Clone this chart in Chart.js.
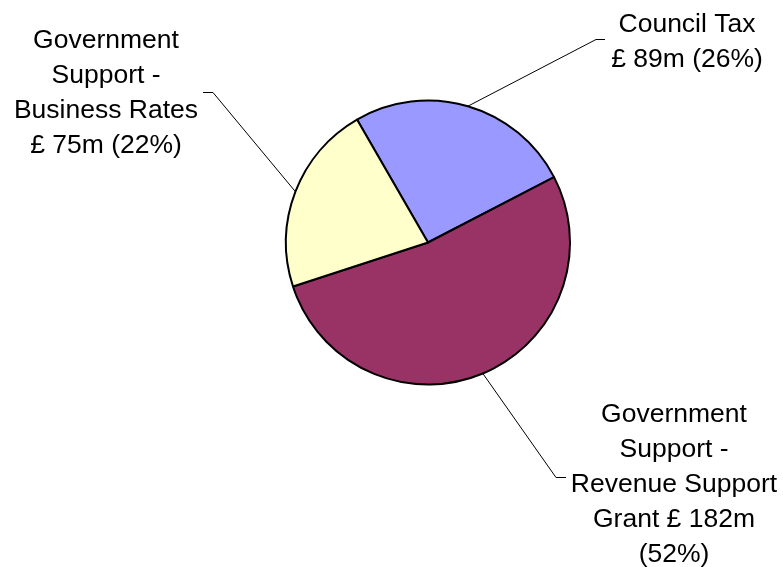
<!DOCTYPE html>
<html>
<head>
<meta charset="utf-8">
<script src="https://cdn.jsdelivr.net/npm/chart.js@4/dist/chart.umd.min.js"></script>
<style>
  html, body { margin: 0; padding: 0; background: #ffffff; }
  #wrap { width: 783px; height: 567px; position: relative; }
</style>
</head>
<body>
<div id="wrap"><canvas id="c" width="783" height="567"></canvas></div>
<script>
// ---- Data ----
const categories = ['Council Tax', 'Government Support - Revenue Support Grant', 'Government Support - Business Rates'];
const values = [89, 182, 75];           // £m
const percents = [26, 52, 22];          // % as printed on the chart
const sliceColors = ['#9999FF', '#993366', '#FFFFCC'];

// label text lines (as wrapped in the original)
const labelLines = [
  ['Council Tax', '£ ' + values[0] + 'm (' + percents[0] + '%)'],
  ['Government', 'Support -', 'Revenue Support', 'Grant £ ' + values[1] + 'm', '(' + percents[1] + '%)'],
  ['Government', 'Support -', 'Business Rates', '£ ' + values[2] + 'm (' + percents[2] + '%)']
];

// label layout (elbow of leader line, tick end, text centre x, first baseline)
const labelLayout = [
  { elbow: [596, 39], tick: [605, 39], cx: 687, y0: 32 },
  { elbow: [556, 477], tick: [566, 477], cx: 674, y0: 422 },
  { elbow: [213, 92], tick: [203, 92], cx: 106, y0: 48 }
];
const lineHeight = 35;

const labelPlugin = {
  id: 'pieLabels',
  afterDatasetsDraw(chart) {
    const ctx = chart.ctx;
    const meta = chart.getDatasetMeta(0);
    ctx.save();
    meta.data.forEach((arc, i) => {
      const p = arc.getProps(['x', 'y', 'startAngle', 'endAngle', 'outerRadius'], true);
      const mid = (p.startAngle + p.endAngle) / 2;
      const sx = p.x + Math.cos(mid) * p.outerRadius;
      const sy = p.y + Math.sin(mid) * p.outerRadius;
      const L = labelLayout[i];
      ctx.strokeStyle = '#000000';
      ctx.lineWidth = 1;
      ctx.beginPath();
      ctx.moveTo(sx, sy);
      ctx.lineTo(L.elbow[0], L.elbow[1] + 0.5);
      ctx.lineTo(L.tick[0], L.tick[1] + 0.5);
      ctx.stroke();
      ctx.fillStyle = '#000000';
      ctx.font = '26.5px "Liberation Sans", Arial, sans-serif';
      ctx.textAlign = 'center';
      ctx.textBaseline = 'alphabetic';
      labelLines[i].forEach((t, k) => {
        ctx.fillText(t, L.cx, L.y0 + k * lineHeight);
      });
    });
    ctx.restore();
  }
};

new Chart(document.getElementById('c'), {
  type: 'pie',
  data: {
    labels: categories,
    datasets: [{
      data: values,
      backgroundColor: sliceColors,
      borderColor: '#000000',
      borderWidth: 2
    }]
  },
  options: {
    responsive: false,
    animation: false,
    rotation: -30,
    layout: { padding: { left: 285, right: 212, top: 99.5, bottom: 181.5 } },
    plugins: {
      legend: { display: false },
      tooltip: { enabled: false }
    }
  },
  plugins: [labelPlugin]
});
</script>
</body>
</html>
